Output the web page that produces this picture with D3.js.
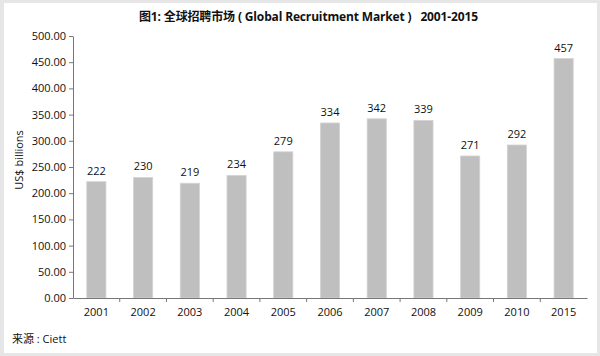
<!DOCTYPE html>
<html><head><meta charset="utf-8">
<script src="https://cdn.jsdelivr.net/npm/d3@7"></script>
<style>
html,body{margin:0;padding:0;background:#fff;}
svg{display:block;}
</style></head>
<body>
<svg id="c" width="600" height="356"></svg>
<script>
const years = ["2001","2002","2003","2004","2005","2006","2007","2008","2009","2010","2015"];
const values = [222,230,219,234,279,334,342,339,271,292,457];
const yTicks = [0,50,100,150,200,250,300,350,400,450,500];
const titleText = "图1: 全球招聘市场 ( Global Recruitment Market )   2001-2015";
const yLabel = "US$ billions";
const sourceText = "来源 : Ciett";

const svg = d3.select("#c");
const W = 600, H = 356;
// border frame
svg.append("rect").attr("x",0).attr("y",0).attr("width",W).attr("height",H).attr("fill","#e6e6e6");
svg.append("rect").attr("x",4).attr("y",3).attr("width",W-7).attr("height",H-6).attr("fill","#fff");

const m = {left:73, right:13, top:36, bottom:58};
const x = d3.scaleBand().domain(years).range([m.left, W-m.right]).paddingInner(0.59).paddingOuter(0.295);
const y = d3.scaleLinear().domain([0,500]).range([H-m.bottom, m.top]);

const font = "'Open Sans','Noto Sans CJK SC',sans-serif";

// bars
svg.append("g").selectAll("rect").data(values).join("rect")
  .attr("x",(d,i)=>x(years[i]))
  .attr("y",d=>y(d))
  .attr("width",x.bandwidth())
  .attr("height",d=>y(0)-y(d))
  .attr("fill","#bfbfbf")
  .attr("stroke","#d4d4d4").attr("stroke-width",0.8);

// value labels
svg.append("g").selectAll("text").data(values).join("text")
  .attr("x",(d,i)=>x(years[i])+x.bandwidth()/2)
  .attr("y",d=>y(d)-7)
  .attr("text-anchor","middle")
  .attr("font-family",font).attr("font-size",11).attr("fill","#111")
  .text(d=>d);

// y axis
const ya = svg.append("g").attr("transform",`translate(${m.left},0)`)
  .call(d3.axisLeft(y).tickValues(yTicks).tickFormat(d3.format(".2f")).tickSize(4).tickSizeOuter(0));
ya.select(".domain").attr("stroke","#777");
ya.selectAll(".tick line").attr("stroke","#777");
ya.selectAll("text").attr("font-family",font).attr("font-size",11).attr("fill","#111").attr("x",-7);

// x axis
const xa = svg.append("g").attr("transform",`translate(0,${y(0)})`)
  .call(d3.axisBottom(x).tickSize(0).tickSizeOuter(0));
xa.select(".domain").attr("stroke","#777");
xa.selectAll("text").attr("font-family",font).attr("font-size",11).attr("fill","#111").attr("dy","0").attr("y",18);
// category separators
const step = x.step();
xa.append("g").selectAll("line").data(years.slice(1)).join("line")
  .attr("x1",d=>x(d)-(step-x.bandwidth())/2).attr("x2",d=>x(d)-(step-x.bandwidth())/2)
  .attr("y1",0).attr("y2",4).attr("stroke","#777");

// title
svg.append("text").attr("x",139).attr("y",21).attr("text-anchor","start")
  .style("white-space","pre")
  .attr("textLength",339).attr("lengthAdjust","spacing")
  .attr("font-family",font).attr("font-size",12).attr("font-weight","bold").attr("fill","#111")
  .text(titleText);

// y label
svg.append("text").attr("transform","translate(23,160) rotate(-90)").attr("text-anchor","middle")
  .attr("font-family",font).attr("font-size",11).attr("fill","#111").text(yLabel);

// source
svg.append("text").attr("x",12).attr("y",343)
  .style("white-space","pre")
  .attr("font-family",font).attr("font-size",11).attr("fill","#111").text(sourceText);
</script>
</body></html>
